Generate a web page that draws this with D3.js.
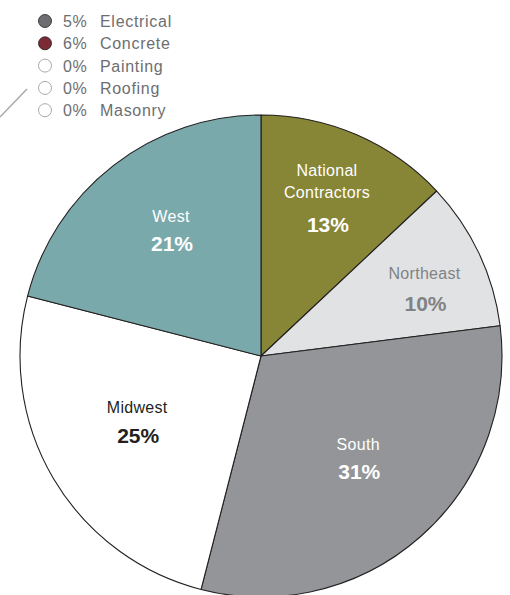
<!DOCTYPE html>
<html>
<head>
<meta charset="utf-8">
<script src="https://cdn.jsdelivr.net/npm/d3@7"></script>
<style>
  html, body { margin: 0; padding: 0; background: #fff; }
  svg { display: block; }
  text { font-family: "Liberation Sans", "DejaVu Sans", sans-serif; }
</style>
</head>
<body>
<svg id="chart" width="510" height="595"></svg>
<script>
// Regional share of contracts (clockwise from 12 o'clock)
const regions = ["National|Contractors", "Northeast", "South", "Midwest", "West"];
const shares = [13, 10, 31, 25, 21];
const sliceColors = ["#878536", "#e1e2e4", "#939598", "#ffffff", "#7aa9ab"];
const labelColors = ["#ffffff", "#808285", "#ffffff", "#231f20", "#ffffff"];
// Label block placement: distance from centre (fraction of radius) and
// a small angular nudge (degrees) away from the slice bisector
const labelRadius = [0.712, 0.734, 0.585, 0.581, 0.643];
const labelNudge = [-0.8, 2.8, -2.2, 2.8, 2.3];
const pctGaps = [32, 30, 27, 29, 28];

// Trade breakdown legend
const trades = ["Electrical", "Concrete", "Painting", "Roofing", "Masonry"];
const tradeShares = [5, 6, 0, 0, 0];
const tradeColors = ["#6d6e71", "#7b2a36", "#ffffff", "#ffffff", "#ffffff"];

const svg = d3.select("#chart");
const cx = 261, cy = 356, R = 241;

const pie = d3.pie().sort(null).value(d => d)(shares);
const arc = d3.arc().innerRadius(0).outerRadius(R);

const g = svg.append("g").attr("transform", `translate(${cx},${cy})`);

g.selectAll("path.slice")
  .data(pie)
  .join("path")
  .attr("class", "slice")
  .attr("d", arc)
  .attr("fill", (d, i) => sliceColors[i])
  .attr("stroke", "#231f20")
  .attr("stroke-width", 1.1)
  .attr("stroke-linejoin", "round");

// Slice labels: name lines, then the bold percentage
const nameGap = 22;
pie.forEach((d, i) => {
  const mid = (d.startAngle + d.endAngle) / 2 + labelNudge[i] * Math.PI / 180;
  const r = R * labelRadius[i];
  const x = Math.sin(mid) * r;
  const y = -Math.cos(mid) * r;
  const lines = regions[i].split("|");
  const span = (lines.length - 1) * nameGap + pctGaps[i];
  const first = y - span / 2;
  const t = g.append("g").attr("fill", labelColors[i]).attr("text-anchor", "middle");
  lines.forEach((ln, k) => {
    t.append("text")
      .attr("x", x)
      .attr("y", first + k * nameGap)
      .attr("dy", "0.36em")
      .attr("font-size", 16)
      .attr("letter-spacing", 0.3)
      .text(ln);
  });
  t.append("text")
    .attr("x", x + 1)
    .attr("y", first + (lines.length - 1) * nameGap + pctGaps[i])
    .attr("dy", "0.36em")
    .attr("font-size", 21)
    .attr("font-weight", "bold")
    .text(d.data + "%");
});

// Legend
const legend = svg.append("g").attr("transform", "translate(45,21)");
const rows = legend.selectAll("g.row")
  .data(trades)
  .join("g")
  .attr("class", "row")
  .attr("transform", (d, i) => `translate(0,${i * 22.3})`);

rows.append("circle")
  .attr("r", 6.5)
  .attr("fill", (d, i) => tradeColors[i])
  .attr("stroke", (d, i) => tradeShares[i] > 0 ? "#231f20" : "#a7a9ac")
  .attr("stroke-width", (d, i) => tradeShares[i] > 0 ? 0.8 : 1);

rows.append("text")
  .attr("x", 18)
  .attr("y", 6)
  .attr("font-size", 16)
  .attr("fill", "#6d6e71")
  .attr("letter-spacing", 0.6)
  .text((d, i) => tradeShares[i] + "%");

rows.append("text")
  .attr("x", 55)
  .attr("y", 6)
  .attr("font-size", 16)
  .attr("fill", "#6d6e71")
  .attr("letter-spacing", 0.7)
  .text(d => d);

// Leader stroke toward the legend
svg.append("line")
  .attr("x1", 0).attr("y1", 117)
  .attr("x2", 27).attr("y2", 89)
  .attr("stroke", "#a7a9ac")
  .attr("stroke-width", 1.5);
</script>
</body>
</html>
